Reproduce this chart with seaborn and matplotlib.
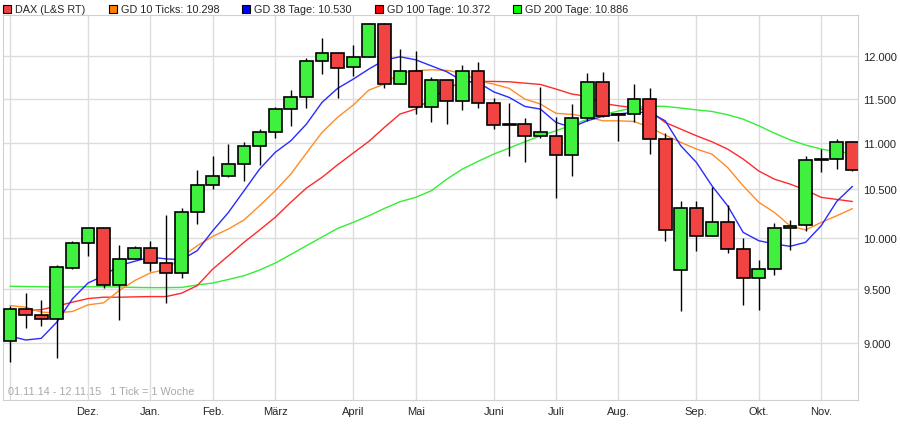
import numpy as np
import pandas as pd
import matplotlib
matplotlib.use("Agg")
import matplotlib.pyplot as plt
import matplotlib.ticker as mticker
from matplotlib.patches import Rectangle
import seaborn as sns

# weekly candles 01.11.14 - 12.11.15
opens = [9016, 9310, 9254, 9217, 9706, 9946, 10096, 9542, 9788, 9896, 9749, 9652, 10259, 10542,
         10637, 10766, 10962, 11116, 11376, 11513, 11936, 12032, 11865, 11984, 12391, 11664, 11817,
         11398, 11711, 11467, 11817, 11444, 11202, 11206, 11072, 11072, 10864, 11274, 11688, 11315,
         11319, 11490, 11039, 9681, 10300, 10016, 10157, 9886, 9604, 9690, 10096, 10127, 10812,
         10820, 11012]
highs = [9344, 9461, 9397, 9732, 9972, 10096, 10096, 9929, 9916, 9969, 10231, 10300, 10705, 10856,
         10984, 11006, 11153, 11398, 11598, 11972, 12215, 12032, 12133, 12404, 12404, 12084, 12057,
         11747, 11711, 11892, 11928, 11509, 11444, 11278, 11633, 11286, 11433, 11797, 11809, 11331,
         11664, 11618, 11105, 10380, 10377, 10524, 10335, 9996, 9778, 10150, 10177, 10856, 10929,
         11039, 11023]
lows = [8828, 9140, 9158, 8869, 9693, 9823, 9514, 9214, 9788, 9677, 9372, 9609, 10143, 10503,
        10630, 10590, 10761, 11056, 11190, 11394, 11789, 11509, 11765, 11984, 11625, 11664, 11323,
        11235, 11213, 11370, 11394, 11150, 10859, 10794, 11050, 10405, 10644, 11243, 11286, 11023,
        11235, 10881, 9972, 9297, 9873, 10016, 9853, 9353, 9306, 9638, 9882, 10066, 10687,
        10715, 10697]
closes = [9310, 9254, 9217, 9710, 9946, 10096, 9542, 9788, 9896, 9749, 9652, 10259, 10542, 10637,
          10766, 10962, 11116, 11376, 11513, 11936, 12032, 11860, 11984, 12391, 11664, 11817, 11398,
          11711, 11467, 11817, 11444, 11195, 11202, 11072, 11116, 10864, 11274, 11688, 11297, 11315,
          11490, 11039, 10076, 10300, 10016, 10157, 9886, 9604, 9690, 10096, 10123, 10809, 10812,
          11012, 10708]

gd10 = [9344, 9329, 9283, 9276, 9289, 9351, 9370, 9486, 9582, 9656, 9688, 9809, 9922, 10016,
        10090, 10182, 10328, 10484, 10661, 10888, 11116, 11286, 11425, 11598, 11668, 11797, 11825,
        11837, 11830, 11797, 11706, 11668, 11618, 11494, 11437, 11331, 11319, 11292, 11246, 11246,
        11239, 11172, 11086, 11006, 10932, 10876, 10732, 10536, 10364, 10259, 10123, 10080, 10157,
        10225, 10298]
gd38 = [9063, 9027, 9042, 9190, 9407, 9558, 9628, 9726, 9769, 9809, 9792, 9785, 9873, 10073,
        10259, 10484, 10715, 10896, 11023, 11209, 11456, 11618, 11726, 11845, 11952, 11992, 11956,
        11884, 11813, 11706, 11688, 11578, 11513, 11410, 11379, 11228, 11172, 11246, 11297, 11323,
        11342, 11342, 11246, 10968, 10787, 10536, 10328, 10056, 9972, 9940, 9916, 9956, 10123,
        10374, 10530]
gd100 = [None, 9297, 9306, 9339, 9376, 9410, 9423, 9423, 9426, 9429, 9429, 9461, 9533, 9693,
         9823, 9956, 10080, 10209, 10364, 10513, 10626, 10761, 10888, 11016, 11172, 11323, 11379,
         11494, 11621, 11688, 11699, 11699, 11695, 11679, 11664, 11610, 11553, 11525, 11444, 11417,
         11394, 11360, 11228, 11153, 11079, 11012, 10932, 10823, 10694, 10607, 10555, 10492, 10415,
         10394, 10372]
gd200 = [9527, 9525, 9522, 9520, 9520, 9522, 9522, 9520, 9516, 9514, 9514, 9516, 9539, 9558,
         9592, 9628, 9683, 9751, 9835, 9922, 10009, 10096, 10157, 10225, 10300, 10370, 10415,
         10484, 10607, 10715, 10798, 10876, 10943, 11012, 11079, 11134, 11198, 11262, 11315, 11357,
         11394, 11413, 11410, 11391, 11370, 11352, 11315, 11265, 11190, 11108, 11034, 10976, 10932,
         10903, 10886]

month_pos = [5, 9, 13, 17, 22, 26, 31, 35, 39, 44, 48, 52]
month_labels = ["Dez.", "Jan.", "Feb.", "März", "April", "Mai", "Juni", "Juli", "Aug.", "Sep.", "Okt.", "Nov."]
y_ticks = [9000, 9500, 10000, 10500, 11000, 11500, 12000]

legend_items = [("DAX (L&S RT)", "#f04040"), ("GD 10 Ticks: 10.298", "#ff7f00"),
                ("GD 38 Tage: 10.530", "#0000ff"), ("GD 100 Tage: 10.372", "#ff0000"),
                ("GD 200 Tage: 10.886", "#00ff00")]

sns.set_style("white")
plt.rcParams["font.family"] = ["Liberation Sans", "DejaVu Sans"]

df = pd.DataFrame({"week": np.arange(len(opens)), "open": opens, "high": highs,
                   "low": lows, "close": closes})
ma = pd.DataFrame({"week": df["week"], "GD10": gd10, "GD38": gd38,
                   "GD100": pd.array(gd100, dtype="Float64"), "GD200": gd200}).astype(float)

fig = plt.figure(figsize=(9, 4.35), dpi=100)
ax = fig.add_axes([3 / 900, 34 / 435, 855 / 900, 385 / 435])
ax.set_yscale("log")

for col, c in [("GD200", "#33ee33"), ("GD100", "#ff2a2a"), ("GD10", "#ff8c26"), ("GD38", "#2a2aff")]:
    sns.lineplot(data=ma, x="week", y=col, color=c, linewidth=1, ax=ax, zorder=2)

# candles
up = df["close"] >= df["open"]
ax.vlines(df["week"], df["low"], df["high"], color="black", linewidth=1, zorder=3)
body = (df["close"] - df["open"]).abs()
bottom = df[["open", "close"]].min(axis=1)
ax.bar(df["week"], body.where(body > 0, 8), bottom=bottom, width=0.83,
       color=np.where(up, "#3ff03f", "#f24343"), edgecolor="black", linewidth=1.2, zorder=4)

ax.set_xlim(-0.45, 54.36)
ax.set_ylim(8500, 12505)
ax.set_xticks([0] + month_pos)
ax.set_xticklabels([""] + month_labels, fontsize=8)
ax.set_yticks(y_ticks)
ax.yaxis.set_minor_locator(mticker.NullLocator())
ax.set_yticklabels([f"{v:,}".replace(",", ".") for v in y_ticks], fontsize=8)
ax.yaxis.tick_right()
ax.tick_params(length=0, pad=4)
ax.set_xlabel("")
ax.set_ylabel("")
ax.grid(True, color="#dcdcdc", linewidth=1)
ax.set_axisbelow(True)
for s in ax.spines.values():
    s.set_color("#d0d0d0")

ax.text(0.006, 0.015, "01.11.14 - 12.11.15   1 Tick = 1 Woche", transform=ax.transAxes,
        fontsize=7.8, color="#a8a8a8")

# legend row
xs = [3, 109, 242, 375, 513]
for (lab, c), x in zip(legend_items, xs):
    fig.add_artist(Rectangle((x / 900, 1 - 14 / 435), 8 / 900, 8 / 435, transform=fig.transFigure,
                             facecolor=c, edgecolor="black", linewidth=0.8))
    fig.text((x + 12) / 900, 1 - 10 / 435, lab, fontsize=7.8, va="center")

fig.savefig("out.png", dpi=100)
